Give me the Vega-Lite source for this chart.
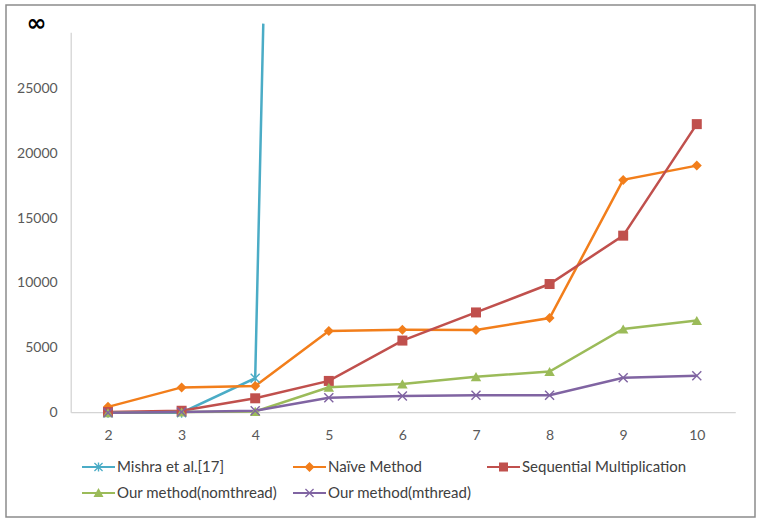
{
  "$schema": "https://vega.github.io/schema/vega-lite/v6.json",
  "autosize": {"type": "none"},
  "width": 749,
  "height": 512,
  "padding": {"left": 6, "top": 5, "right": 10, "bottom": 6},
  "background": "white",
  "config": {
    "view": {"stroke": "#8c8c8c", "strokeWidth": 1.5},
    "font": "Lato"
  },
  "data": {
    "values": [
      {"series": "Mishra et al.[17]", "x": 2, "y": 0},
      {"series": "Mishra et al.[17]", "x": 3, "y": 0},
      {"series": "Mishra et al.[17]", "x": 4, "y": 2660},
      {"series": "Mishra et al.[17]", "x": 4.11, "y": 30000},
      {"series": "Naïve Method", "x": 2, "y": 450},
      {"series": "Naïve Method", "x": 3, "y": 1950},
      {"series": "Naïve Method", "x": 4, "y": 2060},
      {"series": "Naïve Method", "x": 5, "y": 6300},
      {"series": "Naïve Method", "x": 6, "y": 6390},
      {"series": "Naïve Method", "x": 7, "y": 6380},
      {"series": "Naïve Method", "x": 8, "y": 7300},
      {"series": "Naïve Method", "x": 9, "y": 17950},
      {"series": "Naïve Method", "x": 10, "y": 19050},
      {"series": "Sequential Multiplication", "x": 2, "y": 50},
      {"series": "Sequential Multiplication", "x": 3, "y": 150},
      {"series": "Sequential Multiplication", "x": 4, "y": 1110},
      {"series": "Sequential Multiplication", "x": 5, "y": 2450},
      {"series": "Sequential Multiplication", "x": 6, "y": 5560},
      {"series": "Sequential Multiplication", "x": 7, "y": 7730},
      {"series": "Sequential Multiplication", "x": 8, "y": 9920},
      {"series": "Sequential Multiplication", "x": 9, "y": 13650},
      {"series": "Sequential Multiplication", "x": 10, "y": 22250},
      {"series": "Our method(nomthread)", "x": 2, "y": 0},
      {"series": "Our method(nomthread)", "x": 3, "y": 50},
      {"series": "Our method(nomthread)", "x": 4, "y": 100},
      {"series": "Our method(nomthread)", "x": 5, "y": 1960},
      {"series": "Our method(nomthread)", "x": 6, "y": 2220},
      {"series": "Our method(nomthread)", "x": 7, "y": 2780},
      {"series": "Our method(nomthread)", "x": 8, "y": 3170},
      {"series": "Our method(nomthread)", "x": 9, "y": 6450},
      {"series": "Our method(nomthread)", "x": 10, "y": 7110},
      {"series": "Our method(mthread)", "x": 2, "y": 0},
      {"series": "Our method(mthread)", "x": 3, "y": 50},
      {"series": "Our method(mthread)", "x": 4, "y": 150},
      {"series": "Our method(mthread)", "x": 5, "y": 1160},
      {"series": "Our method(mthread)", "x": 6, "y": 1290},
      {"series": "Our method(mthread)", "x": 7, "y": 1340},
      {"series": "Our method(mthread)", "x": 8, "y": 1340},
      {"series": "Our method(mthread)", "x": 9, "y": 2700},
      {"series": "Our method(mthread)", "x": 10, "y": 2840}
    ]
  },
  "layer": [
    {
      "data": {"values": [{}]},
      "mark": {"type": "rule", "color": "#d4d4d4", "strokeWidth": 1.3},
      "encoding": {
        "x": {"datum": 1.5, "type": "quantitative"},
        "x2": {"datum": 10.53},
        "y": {"datum": 0, "type": "quantitative"}
      }
    },
    {
      "data": {"values": [{}]},
      "mark": {"type": "rule", "color": "#d4d4d4", "strokeWidth": 1.3},
      "encoding": {
        "x": {"datum": 1.5, "type": "quantitative"},
        "y": {"datum": 0, "type": "quantitative"},
        "y2": {"datum": 29300}
      }
    },
    {
      "data": {"values": [{}]},
      "mark": {"type": "text", "text": "∞", "font": "DejaVu Sans", "fontSize": 24, "fontWeight": "bold", "color": "#000000", "align": "center", "baseline": "middle"},
      "encoding": {
        "x": {"datum": 1.03, "type": "quantitative"},
        "y": {"datum": 30000, "type": "quantitative"}
      }
    },
    {
      "encoding": {
        "x": {
          "field": "x", "type": "quantitative",
          "scale": {"domain": [0.614, 10.791], "nice": false, "zero": false},
          "axis": {
            "title": null, "orient": "bottom", "offset": -104.3,
            "values": [2, 3, 4, 5, 6, 7, 8, 9, 10],
            "format": "d",
            "domain": false, "ticks": false, "grid": false,
            "labelFont": "Lato", "labelFontSize": 14, "labelColor": "#595959",
            "labelPadding": 16, "labelFlush": false
          }
        },
        "y": {
          "field": "y", "type": "quantitative",
          "scale": {"domain": [-8042, 31434], "nice": false, "zero": false},
          "axis": {
            "title": null, "orient": "left", "offset": -65.2,
            "values": [0, 5000, 10000, 15000, 20000, 25000],
            "format": "d",
            "domain": false, "ticks": false, "grid": false,
            "labelFont": "Lato", "labelFontSize": 14, "labelColor": "#595959",
            "labelPadding": 14
          }
        },
        "color": {
          "field": "series", "type": "nominal",
          "scale": {
            "domain": ["Mishra et al.[17]", "Naïve Method", "Sequential Multiplication", "Our method(nomthread)", "Our method(mthread)"],
            "range": ["#4BACC6", "#F27E1B", "#C0504D", "#9BBB59", "#8064A2"]
          },
          "legend": {
            "title": null,
            "orient": "none",
            "legendX": 82.5,
            "legendY": 452,
            "direction": "horizontal",
            "columns": 3,
            "padding": 0,
            "columnPadding": 15,
            "rowPadding": 8,
            "symbolSize": 400,
            "labelOffset": 8.5,
            "labelFont": "Lato",
            "labelFontSize": 15,
            "labelColor": "#404040",
            "labelLimit": 300,
            "encode": {
              "symbols": {
                "update": {
                  "shape": {"signal": "datum.value == 'Mishra et al.[17]' ? 'M-1.65,-0.11H1.65V0.11H-1.65ZM-0.45,-0.36L-0.36,-0.45L0,-0.09L0.36,-0.45L0.45,-0.36L0.09,0L0.45,0.36L0.36,0.45L0,0.09L-0.36,0.45L-0.45,0.36L-0.09,0ZM-0.07,-0.45H0.07V0.45H-0.07Z' : datum.value == 'Naïve Method' ? 'M-1.65,-0.11H1.65V0.11H-1.65ZM0,-0.5L0.5,0L0,0.5L-0.5,0Z' : datum.value == 'Sequential Multiplication' ? 'M-1.65,-0.11H1.65V0.11H-1.65ZM-0.45,-0.45H0.45V0.45H-0.45Z' : datum.value == 'Our method(nomthread)' ? 'M-1.65,-0.11H1.65V0.11H-1.65ZM0,-0.5L0.5,0.4H-0.5Z' : 'M-1.65,-0.11H1.65V0.11H-1.65ZM-0.45,-0.36L-0.36,-0.45L0,-0.09L0.36,-0.45L0.45,-0.36L0.09,0L0.45,0.36L0.36,0.45L0,0.09L-0.36,0.45L-0.45,0.36L-0.09,0Z'"},
                  "size": {"value": 400},
                  "fill": {"signal": "scale('color', datum.value)"},
                  "strokeWidth": {"value": 0},
                  "opacity": {"value": 1}
                }
              }
            }
          }
        }
      },
      "layer": [
        {
          "mark": {"type": "line", "strokeWidth": 2.5}
        },
        {
          "transform": [{"filter": "datum.series == 'Mishra et al.[17]' && datum.y < 30000"}],
          "mark": {"type": "point", "filled": true, "opacity": 1, "size": 100, "strokeWidth": 0,
                   "shape": "M-1,-0.8L-0.8,-1L0,-0.2L0.8,-1L1,-0.8L0.2,0L1,0.8L0.8,1L0,0.2L-0.8,1L-1,0.8L-0.2,0ZM-0.14,-1H0.14V1H-0.14Z"}
        },
        {
          "transform": [{"filter": "datum.series == 'Naïve Method'"}],
          "mark": {"type": "point", "filled": true, "opacity": 1, "size": 100, "strokeWidth": 0, "shape": "diamond"}
        },
        {
          "transform": [{"filter": "datum.series == 'Sequential Multiplication'"}],
          "mark": {"type": "point", "filled": true, "opacity": 1, "size": 100, "strokeWidth": 0, "shape": "square"}
        },
        {
          "transform": [{"filter": "datum.series == 'Our method(nomthread)'"}],
          "mark": {"type": "point", "filled": true, "opacity": 1, "size": 110, "strokeWidth": 0, "shape": "triangle-up"}
        },
        {
          "transform": [{"filter": "datum.series == 'Our method(mthread)'"}],
          "mark": {"type": "point", "filled": true, "opacity": 1, "size": 100, "strokeWidth": 0,
                   "shape": "M-1,-0.8L-0.8,-1L0,-0.2L0.8,-1L1,-0.8L0.2,0L1,0.8L0.8,1L0,0.2L-0.8,1L-1,0.8L-0.2,0Z"}
        }
      ]
    }
  ]
}
